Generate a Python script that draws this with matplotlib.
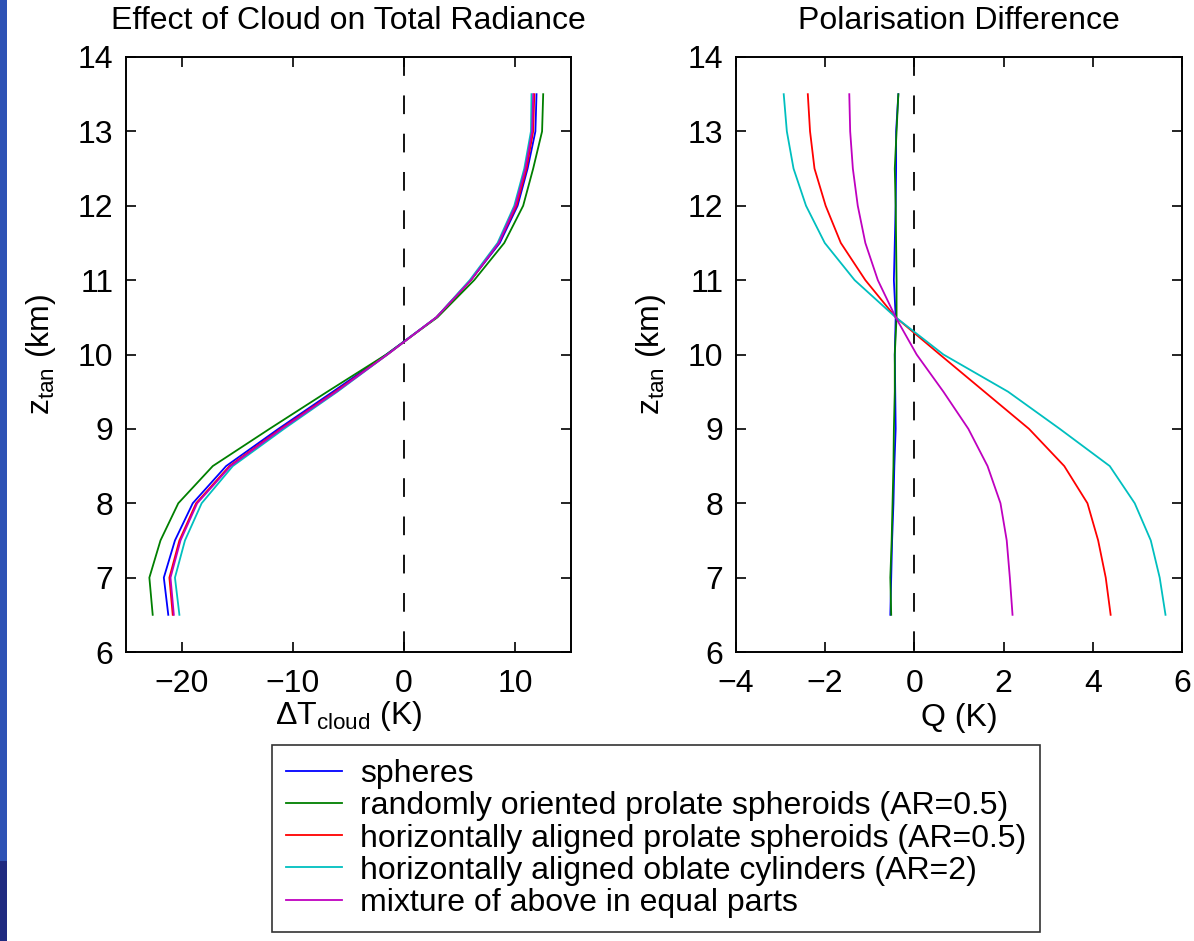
import matplotlib
matplotlib.use("Agg")
import matplotlib.pyplot as plt
from matplotlib.patches import Rectangle

plt.rcParams['font.family'] = ['Liberation Sans', 'DejaVu Sans']
plt.rcParams['mathtext.fontset'] = 'custom'
plt.rcParams['mathtext.rm'] = 'Liberation Sans'
plt.rcParams['mathtext.it'] = 'Liberation Sans'

z = [6.5, 7.0, 7.5, 8.0, 8.5, 9.0, 9.5, 10.0, 10.5, 11.0, 11.5, 12.0, 12.5, 13.0, 13.5]

labels = ["spheres",
          "randomly oriented prolate spheroids (AR=0.5)",
          "horizontally aligned prolate spheroids (AR=0.5)",
          "horizontally aligned oblate cylinders (AR=2)",
          "mixture of above in equal parts"]
colors = ["#0000ff", "#007f00", "#ff0000", "#00bfbf", "#bf00bf"]

# Effect of cloud on total radiance (Delta T_cloud, K)
dt_spheres = [-21.2, -21.6, -20.6, -19.0, -16.0, -11.3, -6.4, -1.6, 2.9, 6.0, 8.6, 10.2, 11.1, 11.8, 11.9]
dt_random = [-22.6, -22.9, -21.9, -20.3, -17.2, -12.1, -6.9, -1.6, 3.0, 6.3, 9.0, 10.7, 11.6, 12.4, 12.5]
dt_hprolate = [-20.8, -21.1, -20.2, -18.7, -15.7, -11.1, -6.2, -1.5, 2.9, 6.0, 8.5, 10.1, 11.0, 11.6, 11.7]
dt_hoblate = [-20.2, -20.6, -19.7, -18.2, -15.4, -10.8, -6.0, -1.5, 2.9, 5.9, 8.4, 9.9, 10.8, 11.4, 11.45]
dt_mixture = [-20.7, -21.0, -20.1, -18.6, -15.6, -11.0, -6.1, -1.5, 2.9, 6.0, 8.5, 10.0, 10.9, 11.5, 11.6]

# Polarisation difference (Q, K)
q_spheres = [-0.54, -0.52, -0.50, -0.47, -0.45, -0.42, -0.43, -0.44, -0.42, -0.46, -0.44, -0.42, -0.41, -0.41, -0.36]
q_random = [-0.52, -0.54, -0.51, -0.49, -0.47, -0.46, -0.44, -0.44, -0.40, -0.40, -0.41, -0.42, -0.44, -0.40, -0.36]
q_hprolate = [4.40, 4.29, 4.12, 3.88, 3.36, 2.57, 1.57, 0.57, -0.42, -1.10, -1.65, -1.99, -2.24, -2.34, -2.39]
q_hoblate = [5.63, 5.50, 5.30, 4.94, 4.38, 3.26, 2.10, 0.65, -0.42, -1.34, -2.01, -2.43, -2.71, -2.86, -2.93]
q_mixture = [2.20, 2.14, 2.07, 1.93, 1.64, 1.21, 0.65, 0.05, -0.42, -0.82, -1.10, -1.27, -1.38, -1.44, -1.46]

dt_series = [dt_spheres, dt_random, dt_hprolate, dt_hoblate, dt_mixture]
q_series = [q_spheres, q_random, q_hprolate, q_hoblate, q_mixture]

W, H = 1194, 941
fig = plt.figure(figsize=(W / 100, H / 100), dpi=100)

# slide decoration strip on left edge
fig.patches.append(Rectangle((0, 0), 7 / W, 80 / H, transform=fig.transFigure,
                             facecolor="#1f2a80", edgecolor="none", zorder=0))
fig.patches.append(Rectangle((0, 80 / H), 7 / W, 1 - 80 / H, transform=fig.transFigure,
                             facecolor="#2e52b5", edgecolor="none", zorder=0))

ax1 = fig.add_axes([126 / W, 1 - 652 / H, 445 / W, 595 / H])
ax2 = fig.add_axes([736 / W, 1 - 652 / H, 446 / W, 595 / H])

fs = 23
handles = []
for s, c, lab in zip(dt_series, colors, labels):
    h, = ax1.plot(s, z, color=c, lw=1.3, label=lab)
    handles.append(h)
for s, c in zip(q_series, colors):
    ax2.plot(s, z, color=c, lw=1.3)

for ax in (ax1, ax2):
    ax.axvline(0, color="black", lw=1.3, ls=(20.1, (10.35, 10.85)), zorder=0)
    ax.set_ylim(6, 14)
    ax.set_yticks(range(6, 15))
    ax.tick_params(direction="in", length=7, width=1.2, top=True, right=True,
                   labelsize=fs)
    ax.tick_params(axis="x", pad=12)
    ax.tick_params(axis="y", pad=9)
    for sp in ax.spines.values():
        sp.set_linewidth(1.4)
    ax.set_ylabel(r"z$_\mathregular{tan}$ (km)", fontsize=fs, labelpad=14)

ax1.set_xlim(-25, 15)
ax1.set_xticks([-20, -10, 0, 10])
ax1.set_xticklabels(["\u221220", "\u221210", "0", "10"])
ax1.set_xlabel(r"$\Delta$T$_\mathregular{cloud}$ (K)", fontsize=fs, labelpad=0)
ax1.set_title("Effect of Cloud on Total Radiance", fontsize=fs, pad=20)

ax2.set_xlim(-4, 6)
ax2.set_xticks([-4, -2, 0, 2, 4, 6])
ax2.set_xticklabels(["\u22124", "\u22122", "0", "2", "4", "6"])
ax2.set_xlabel("Q (K)", fontsize=fs, labelpad=3)
ax2.set_title("Polarisation Difference", fontsize=fs, pad=20)

leg = fig.legend(handles=handles, labels=labels, loc="upper left",
                 bbox_to_anchor=(272 / W, 4 / H, (1040 - 272) / W, (937 - 745) / H),
                 mode="expand", fontsize=fs, frameon=True, fancybox=False,
                 edgecolor="black", handlelength=1.75, handletextpad=0.55,
                 labelspacing=0.065, borderpad=0.45, borderaxespad=0)
leg.get_frame().set_linewidth(1.2)

fig.savefig("out.png", dpi=100)
